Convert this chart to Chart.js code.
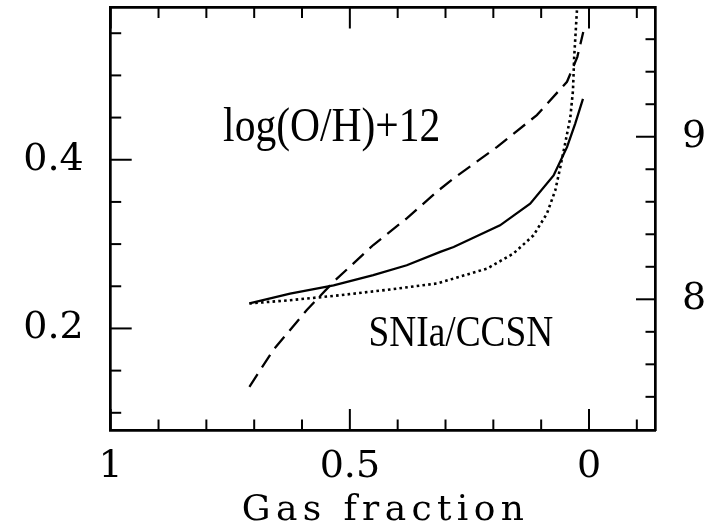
<!DOCTYPE html>
<html>
<head>
<meta charset="utf-8">
<script src="https://cdn.jsdelivr.net/npm/chart.js@4.4.1/dist/chart.umd.min.js"></script>
<style>
html,body{margin:0;padding:0;background:#fff;overflow:hidden;}
canvas{display:block;}
</style>
</head>
<body>
<canvas id="c" width="714" height="529"></canvas>
<script>
// ---- data ----
const gasSolid   = [0.710,0.625,0.534,0.451,0.381,0.311,0.283,0.186,0.123,0.074,0.046,0.029,0.0126];
const ratioSolid = [0.2296,0.2414,0.2512,0.2631,0.2749,0.2907,0.2966,0.3222,0.3479,0.3814,0.4149,0.4426,0.4722];

const gasDotted   = [0.710,0.625,0.520,0.416,0.318,0.283,0.213,0.158,0.116,0.088,0.0705,0.060,0.050,0.039,0.0335,0.031,0.025,0.023];
const ratioDotted = [0.2296,0.2335,0.2394,0.2462,0.2533,0.2592,0.2710,0.2888,0.3104,0.3361,0.3637,0.3912,0.4189,0.4504,0.4820,0.5214,0.5791,0.600];

const gasDashed = [0.710,0.660,0.590,0.534,0.451,0.381,0.318,0.283,0.192,0.109,0.046,0.0245,0.012];
const ohDashed  = [7.462,7.688,7.934,8.108,8.334,8.498,8.662,8.744,8.938,9.133,9.338,9.490,9.644];

const xMajorTicks = [1, 0.5, 0];
const xMinorTicks = [0.9,0.8,0.7,0.6,0.4,0.3,0.2,0.1,-0.1];
const yLeftMajorTicks = [0.2, 0.4];
const yLeftMinorTicks = [0.1,0.15,0.25,0.3,0.35,0.45,0.5,0.55];
const yRightMajorTicks = [8, 9];
const yRightMinorTicks = [7.4,7.6,7.8,8.2,8.4,8.6,8.8,9.2,9.4,9.6];

const xTitle = 'Gas fraction';
const annotations = [
  {text:'log(O/H)+12', x:0.765, y:0.4228},
  {text:'SNIa/CCSN',  x:0.461, y:0.179}
];

// ---- chart ----
const pts = (xs, ys) => xs.map((x,i)=>({x, y: ys[i]}));
const tickFont = {family:'"DejaVu Serif"', size:38};

function fixTicks(values){
  return function(scale){ scale.ticks = values.map(v=>({value:v})); };
}
function sizeFit(prop, val){
  return function(s){
    s[prop] = val;
    s.paddingTop = 0; s.paddingBottom = 0; s.paddingLeft = 0; s.paddingRight = 0;
  };
}

const decor = {
  id:'decor',
  afterDraw(chart){
    const ctx = chart.ctx, a = chart.chartArea, s = chart.scales;
    ctx.save();
    ctx.strokeStyle = '#000';
    ctx.lineWidth = 2;
    const seg = (x1,y1,x2,y2)=>{ctx.beginPath();ctx.moveTo(x1,y1);ctx.lineTo(x2,y2);ctx.stroke();};
    xMajorTicks.forEach(v=>{const p=s.x.getPixelForValue(v); seg(p,a.bottom,p,a.bottom-21); seg(p,a.top,p,a.top+21);});
    xMinorTicks.forEach(v=>{const p=s.x.getPixelForValue(v); seg(p,a.bottom,p,a.bottom-10.5); seg(p,a.top,p,a.top+10.5);});
    yLeftMajorTicks.forEach(v=>{const p=s.y.getPixelForValue(v); seg(a.left,p,a.left+21,p);});
    yLeftMinorTicks.forEach(v=>{const p=s.y.getPixelForValue(v); seg(a.left,p,a.left+10.5,p);});
    yRightMajorTicks.forEach(v=>{const p=s.y2.getPixelForValue(v); seg(a.right,p,a.right-19,p);});
    yRightMinorTicks.forEach(v=>{const p=s.y2.getPixelForValue(v); seg(a.right,p,a.right-9.5,p);});

    // annotations (condensed serif)
    ctx.fillStyle = '#000';
    ctx.textBaseline = 'alphabetic';
    ctx.textAlign = 'left';
    const annStyle = [{size:48, sx:0.865},{size:45, sx:0.83}];
    annotations.forEach((an,i)=>{
      const px = s.x.getPixelForValue(an.x), py = s.y.getPixelForValue(an.y);
      ctx.save();
      ctx.translate(px, py);
      ctx.scale(annStyle[i].sx, 1);
      ctx.font = annStyle[i].size + 'px "Liberation Serif"';
      ctx.fillText(an.text, 0, 0);
      ctx.restore();
    });

    // x-axis title, letter-spaced
    ctx.font = '36px "DejaVu Serif"';
    const chars = xTitle.split('');
    const widths = chars.map(c=>ctx.measureText(c).width);
    const natural = widths.reduce((p,q)=>p+q,0);
    const target = 282;
    const sp = (target - natural)/(chars.length-1);
    let cx = (a.left + a.right)/2 - target/2;
    const by = 520;
    chars.forEach((c,i)=>{ ctx.fillText(c, cx, by); cx += widths[i] + sp; });
    ctx.restore();
  }
};

new Chart(document.getElementById('c'), {
  type:'line',
  data:{
    datasets:[
      {label:'solid', data:pts(gasSolid, ratioSolid), xAxisID:'x', yAxisID:'y',
       borderColor:'#000', borderWidth:2.3, pointRadius:0, tension:0, fill:false},
      {label:'dotted', data:pts(gasDotted, ratioDotted), xAxisID:'x', yAxisID:'y',
       borderColor:'#000', borderWidth:2.6, borderDash:[2.6,3.2], pointRadius:0, tension:0, fill:false},
      {label:'dashed', data:pts(gasDashed, ohDashed), xAxisID:'x', yAxisID:'y2',
       borderColor:'#000', borderWidth:2.3, borderDash:[15,8], pointRadius:0, tension:0, fill:false}
    ]
  },
  options:{
    responsive:false,
    animation:false,
    devicePixelRatio:1,
    events:[],
    layout:{padding:0},
    plugins:{legend:{display:false}, tooltip:{enabled:false}, title:{display:false}},
    scales:{
      x:{type:'linear', position:'bottom', reverse:true, min:-0.138, max:1,
         afterBuildTicks:fixTicks(xMajorTicks),
         afterFit:sizeFit('height', 99),
         grid:{display:false, drawTicks:false},
         border:{display:true, color:'#000', width:2.7},
         ticks:{font:tickFont, color:'#000', padding:14, maxRotation:0, autoSkip:false,
                callback:v=>String(v)}},
      x2:{type:'linear', position:'top', reverse:true, min:-0.138, max:1,
         afterFit:sizeFit('height', 7.5),
         grid:{display:false, drawTicks:false},
         border:{display:true, color:'#000', width:2.7},
         ticks:{display:false}},
      y:{type:'linear', position:'left', min:0.0796, max:0.5805,
         afterBuildTicks:fixTicks(yLeftMajorTicks),
         afterFit:sizeFit('width', 110.7),
         grid:{display:false, drawTicks:false},
         border:{display:true, color:'#000', width:2.7},
         ticks:{font:tickFont, color:'#000', padding:27, autoSkip:false,
                callback:v=>v.toFixed(1)}},
      y2:{type:'linear', position:'right', min:7.196, max:9.795,
         afterBuildTicks:fixTicks(yRightMajorTicks),
         afterFit:sizeFit('width', 59),
         grid:{display:false, drawTicks:false},
         border:{display:true, color:'#000', width:2.7},
         ticks:{font:tickFont, color:'#000', padding:27, autoSkip:false,
                callback:v=>String(v)}}
    }
  },
  plugins:[decor]
});
</script>
</body>
</html>
